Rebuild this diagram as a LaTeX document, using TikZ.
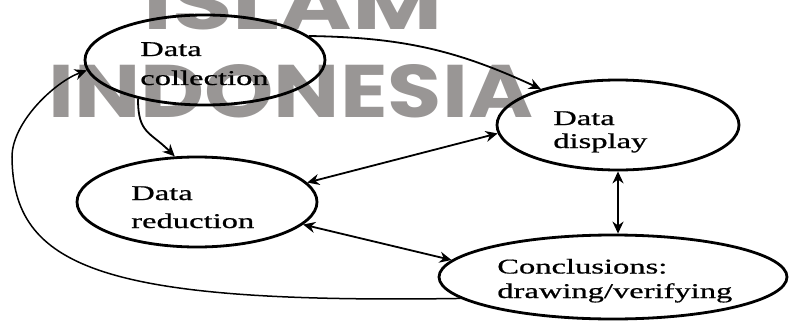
\documentclass[tikz,border=0pt]{standalone}
\usepackage{fontspec}
\setmainfont{Liberation Serif}
\newfontfamily\lblfont[FakeBold=0.6]{Liberation Serif}
\newfontfamily\wmfont{Poppins}
\usetikzlibrary{arrows.meta,shapes.geometric}
\definecolor{wmgray}{RGB}{153,150,149}
\begin{document}
\begin{tikzpicture}[x=1pt,y=1pt,
  oval/.style={ellipse, draw, line width=2.8pt, inner sep=0pt},
  lbl/.style={font=\lblfont\fontsize{21}{25}\selectfont, inner sep=0pt, anchor=base west, xscale=1.55},
  conn/.style={line width=1.8pt, -{Stealth[length=12pt,width=11pt]}},
  both/.style={line width=1.8pt, {Stealth[length=12pt,width=11pt]}-{Stealth[length=12pt,width=11pt]}},
  wm/.style={text=wmgray, inner sep=0pt, anchor=south west}]
\useasboundingbox (0,0) rectangle (789,322);
\begin{scope}
  \clip (0,0) rectangle (789,322);
  \node[wm] (w1) at (143,292) {\resizebox{299pt}{53pt}{\wmfont\bfseries ISLAM}};
  \node[wm] (w2) at (48,204) {\resizebox{485pt}{53pt}{\wmfont\bfseries INDONESIA}};
\end{scope}

% ellipses
\node[oval, minimum width=240pt, minimum height=90pt] (dc) at (205,262) {};
\node[oval, minimum width=242pt, minimum height=90pt] (dd) at (618,197) {};
\node[oval, minimum width=240pt, minimum height=90pt] (dr) at (197,120) {};
\node[oval, minimum width=348pt, minimum height=84pt] (cv) at (613,45) {};

% labels
\node[lbl] (dc1) at (140,266) {Data};
\node[lbl] (dc2) at (140,237) {collection};
\node[lbl] (dd1) at (553,197) {Data};
\node[lbl] (dd2) at (553,174) {display};
\node[lbl] (dr1) at (131,122) {Data};
\node[lbl] (dr2) at (131,94) {reduction};
\node[lbl] (cv1) at (497,48.5) {Conclusions:};
\node[lbl] (cv2) at (497,24) {drawing/verifying};

% connectors
\draw[conn] (dc.13) to[bend left=12] (dd.155);
\draw[conn] (dc.210) .. controls +(0,-35) and +(-25,25) .. (dr.116);
\draw[both] (dd.184) -- (dr.10);
\draw[both] (dd.south) -- (dd.south |- cv.north);
\draw[both] (dr.-12) -- (cv.174);
\coordinate (lp) at (12,165);
\draw[line width=1.5pt, -{Stealth[length=12pt,width=11pt]}]
  (cv.188) .. controls (100,18) and (13,55) .. (lp)
  .. controls (12,200) and (55,240) .. (dc.185);
\end{tikzpicture}
\end{document}
